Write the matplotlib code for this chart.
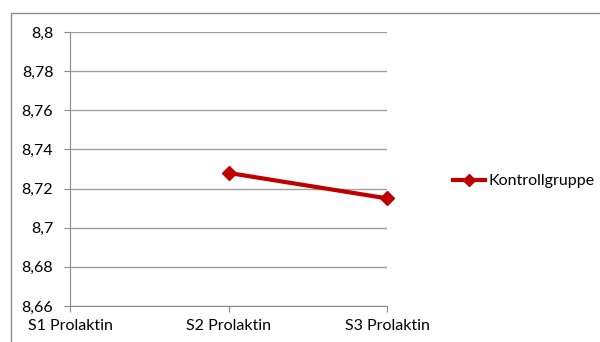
import matplotlib.pyplot as plt
from matplotlib.patches import Rectangle
from matplotlib.ticker import FuncFormatter
import numpy as np

# Data
categories = ["S1 Prolaktin", "S2 Prolaktin", "S3 Prolaktin"]
kontrollgruppe = [np.nan, 8.728, 8.715]
y_ticks = [8.66, 8.68, 8.70, 8.72, 8.74, 8.76, 8.78, 8.80]

plt.rcParams["font.family"] = ["Lato", "DejaVu Sans"]

W, H = 600, 342
fig = plt.figure(figsize=(6, 3.42), dpi=100)
ax = fig.add_axes([70 / W, 1 - 306 / H, (387 - 70) / W, (306 - 32) / H])

x = np.arange(len(categories))
ax.plot(x, kontrollgruppe, color="#c00000", lw=3, marker="D", ms=7,
        label="Kontrollgruppe", clip_on=False, zorder=5)

ax.set_xlim(0, 2)
ax.set_ylim(8.66, 8.8)
ax.set_yticks(y_ticks)
ax.yaxis.set_major_formatter(
    FuncFormatter(lambda v, p: ("%g" % round(v, 2)).replace(".", ",")))
ax.set_xticks(x)
ax.set_xticklabels(categories)
ax.grid(axis="y", color="#a0a0a0", lw=1)
ax.set_axisbelow(True)

for s in ["top", "right"]:
    ax.spines[s].set_visible(False)
for s in ["left", "bottom"]:
    ax.spines[s].set_color("#8c8c8c")
ax.tick_params(axis="both", colors="#8c8c8c", labelcolor="black",
               labelsize=11.5, length=4)
ax.tick_params(axis="y", pad=8)
ax.tick_params(axis="x", pad=5)

# outer chart border (clipped at right/bottom)
fig.patches.append(Rectangle((11 / W, -0.1), 1.2, 1 - 13 / H + 0.1,
                             transform=fig.transFigure, fill=False,
                             edgecolor="#8c8c8c", lw=1))

fig.legend(loc="center left", bbox_to_anchor=(453 / W, 1 - 181 / H),
           frameon=False, fontsize=11.5, handlelength=2.0, handletextpad=0.2,
           borderaxespad=0, borderpad=0, markerscale=0.85)

fig.savefig("out.png", dpi=100)
